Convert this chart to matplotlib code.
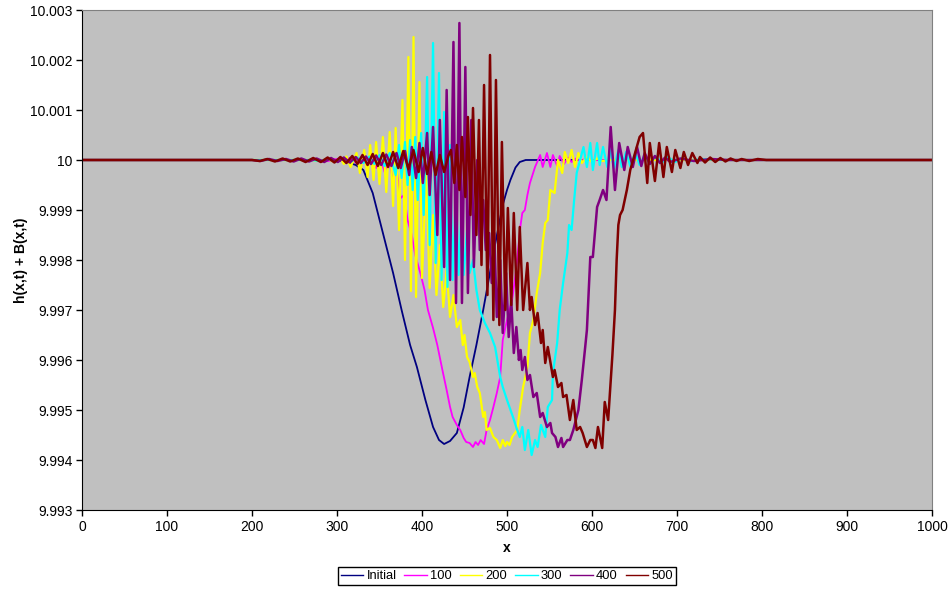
import matplotlib.pyplot as plt
import numpy as np

plt.rcParams["font.family"] = ["Liberation Sans", "DejaVu Sans"]

# surface h + B at each output time, stored as departure from the still
# level 10.0 in units of 1e-5
x_init = [0, 290, 310, 322, 331, 342, 354, 366, 376, 386, 394, 404, 413, 420,
          426, 433, 441, 449, 456, 464, 472, 478, 484, 490, 495, 500, 504, 510,
          515, 522, 1000]
d_init = [0, 0, -3, -10, -20, -66, -146, -226, -300, -370, -414, -480, -534,
          -560, -568, -562, -546, -495, -434, -370, -300, -244, -186, -134,
          -90, -60, -40, -15, -4, 0, 0]

x_100 = [0, 280, 290, 299, 307, 315, 322, 329, 336, 341, 346, 351, 356,
         361, 366, 370, 375, 379, 383, 388, 392, 398, 403, 407, 413, 418, 424,
         429, 433, 436, 441, 445, 449, 452, 456, 460, 463, 466, 469, 473, 476,
         480, 484, 488, 492, 495, 500, 506, 510, 513, 516, 518, 521, 524, 527,
         530, 533, 536, 539, 542, 547, 551, 554, 559, 562, 567, 572, 576, 581,
         586, 592, 600, 1000]
d_100 = [0, 0, -2, 2, -3, 4, -5, 6, -10, 8, -16, 6, -24, 0, -40, -20, -76,
         -70, -120, -150, -190, -226, -260, -300, -336, -370, -420, -460,
         -494, -514, -530, -540, -556, -564, -566, -574, -564, -570, -560,
         -568, -540, -520, -494, -466, -434, -360, -320, -280, -230, -180,
         -130, -106, -100, -70, -46, -30, -14, -2, 10, -14, 14, -14, 10, -12,
         8, -8, 5, -4, 3, -2, 2, 0, 0]

x_200 = [0, 270, 280, 289, 297, 304, 308, 311, 316, 323, 327, 332, 336, 339,
         343, 346, 350, 354, 358, 362, 366, 369, 373, 377, 380, 384, 387, 390,
         393, 397, 400, 405, 409, 413, 417, 421, 425, 429, 433, 437, 441, 445,
         448, 450, 453, 456, 460, 462, 465, 468, 472, 474, 476, 480, 484, 488,
         492, 495, 498, 500, 503, 506, 512, 515, 519, 524, 527, 531, 535, 539,
         542, 545, 548, 551, 556, 560, 565, 568, 572, 576, 580, 584, 588, 594,
         600, 606, 612, 620, 1000]
d_200 = [0, 0, -2, 2, -4, 4, -8, 7, -14, 14, -26, 20, -34, 30, -40, 36, -48,
         46, -64, 56, -92, 64, -140, 120, -200, 206, -262, 246, -274, 156,
         -236, -30, -256, -110, -270, -170, -294, -220, -314, -270, -334,
         -320, -370, -350, -394, -404, -434, -426, -454, -466, -514, -504,
         -540, -536, -554, -560, -576, -560, -572, -564, -570, -554, -540,
         -500, -454, -414, -346, -320, -266, -226, -166, -126, -120, -60, -66,
         0, -26, 16, -6, 20, -14, 14, -6, 6, -4, 3, -2, 0, 0]

x_300 = [0, 270, 280, 290, 299, 308, 316, 324, 331, 338, 344, 350, 356, 362,
         369, 373, 376, 380, 383, 386, 389, 392, 395, 399, 402, 406, 409, 413,
         416, 420, 423, 426, 430, 433, 436, 440, 443, 446, 449, 453, 456, 460,
         464, 468, 474, 480, 486, 492, 495, 500, 507, 512, 515, 518, 521, 525,
         529, 533, 536, 540, 545, 548, 553, 554, 559, 562, 566, 571, 573, 576,
         579, 582, 586, 590, 594, 598, 601, 606, 609, 613, 618, 621, 626, 631,
         635, 640, 645, 651, 656, 662, 668, 675, 682, 689, 698, 706, 715, 727,
         750, 1000]
d_300 = [0, 0, -2, 2, -3, 3, -4, 5, -6, 7, -8, 10, -12, 14, -30, 30, -36, 36,
         -50, 40, -60, 46, -80, 54, -110, 166, -170, 234, -206, 174, -240, 96,
         -254, 30, -240, -60, -230, -120, -230, -140, -226, -200, -260, -300,
         -326, -346, -374, -434, -454, -480, -514, -540, -554, -534, -580,
         -540, -590, -560, -574, -530, -554, -494, -480, -426, -366, -300,
         -246, -186, -130, -140, -80, -26, 0, 26, -14, 34, -20, 34, -10, 26,
         -14, 22, -16, 20, -14, 16, -12, 14, -10, 10, -8, 8, -6, 6, -4, 4, -3,
         2, 0, 0]

x_400 = [0, 200, 210, 220, 230, 240, 249, 258, 267, 276, 285, 293, 301, 308,
         315, 322, 328, 334, 340, 346, 352, 358, 364, 370, 375, 380, 385, 388,
         393, 397, 401, 406, 409, 413, 418, 421, 426, 429, 433, 437, 440, 444,
         447, 451, 454, 458, 461, 465, 468, 472, 475, 479, 482, 485, 488, 492,
         495, 499, 502, 505, 508, 511, 514, 516, 518, 521, 524, 527, 531, 535,
         539, 542, 547, 551, 553, 557, 560, 564, 566, 571, 574, 578, 584, 588,
         592, 594, 598, 601, 606, 609, 613, 617, 622, 627, 632, 638, 642, 648,
         653, 658, 662, 668, 674, 680, 686, 692, 704, 720, 740, 760, 1000]
d_400 = [0, 0, -2, 2, -2, 2, -3, 3, -3, 3, -4, 4, -4, 5, -5, 6, -6, 7, -8, 9,
         -10, 11, -12, 14, -16, 18, -30, 26, -36, 34, -46, 54, -70, 66, -150,
         80, -214, 140, -240, 236, -286, 274, -286, 186, -266, 80, -214, 0,
         -180, -80, -180, -146, -246, -146, -314, -200, -346, -226, -354,
         -280, -386, -334, -400, -380, -420, -394, -440, -430, -474, -466,
         -514, -506, -534, -526, -546, -554, -574, -556, -574, -560, -560,
         -540, -500, -440, -374, -340, -194, -194, -94, -80, -60, -80, 66,
         -60, 34, -20, 26, -14, 26, -12, 14, -8, 8, -6, 5, -4, 3, -2, 2, 0, 0]

x_500 = [0, 200, 209, 218, 227, 236, 245, 254, 263, 272, 281, 289, 297, 304,
         311, 318, 324, 330, 336, 342, 348, 354, 360, 366, 372, 378, 384, 390,
         396, 401, 406, 411, 416, 421, 426, 431, 434, 438, 441, 444, 447, 451,
         454, 457, 460, 464, 467, 470, 473, 477, 480, 484, 487, 491, 494, 498,
         501, 505, 508, 512, 515, 519, 524, 527, 529, 533, 536, 540, 542, 545,
         548, 554, 556, 560, 564, 566, 570, 574, 578, 582, 586, 589, 594, 598,
         601, 604, 607, 612, 615, 619, 624, 627, 629, 631, 633, 636, 641, 645,
         650, 656, 660, 665, 668, 674, 679, 684, 688, 694, 698, 704, 708, 713,
         718, 724, 727, 733, 739, 745, 751, 757, 763, 770, 776, 785, 795, 805,
         1000]
d_500 = [0, 0, -2, 2, -3, 3, -3, 3, -4, 4, -4, 5, -5, 6, -6, 8, -8, 10, -10,
         12, -12, 14, -14, 16, -16, 18, -18, 20, -24, 24, -28, 16, -30, 10,
         -24, 8, 20, -46, 30, -60, 46, -74, 86, -110, 104, -150, 80, -210,
         150, -270, 210, -320, 160, -330, 36, -300, -96, -290, -106, -300,
         -134, -300, -206, -300, -274, -330, -306, -366, -340, -406, -374,
         -434, -420, -454, -446, -474, -470, -520, -480, -540, -534, -546,
         -574, -560, -560, -576, -534, -576, -484, -520, -390, -300, -200,
         -130, -110, -100, -60, -20, 10, 46, 54, -46, 34, -42, 34, -34, 26,
         -24, 20, -16, 16, -10, 14, -6, 6, -5, 5, -4, 4, -3, 3, -2, 2, -2, 2,
         0, 0]

series = [
    ("Initial", x_init, d_init, "#000080", 1.3),
    ("100", x_100, d_100, "#ff00ff", 1.3),
    ("200", x_200, d_200, "#ffff00", 1.6),
    ("300", x_300, d_300, "#00ffff", 1.6),
    ("400", x_400, d_400, "#800080", 1.8),
    ("500", x_500, d_500, "#800000", 1.8),
]

fig = plt.figure(figsize=(9.49, 5.92), dpi=100)
ax = fig.add_axes([82 / 949, 1 - 510 / 592, 850 / 949, 500 / 592])
ax.set_facecolor("#c0c0c0")

for label, xs, ds, color, lw in series:
    h = 10 + np.array(ds) * 1e-5
    ax.plot(xs, h, color=color, lw=lw, label=label)

ax.set_xlim(0, 1000)
ax.set_ylim(9.993, 10.003)
ax.set_xticks(np.arange(0, 1001, 100))
yt = np.arange(9.993, 10.0031, 0.001)
ax.set_yticks(yt)
ax.set_yticklabels([f"{v:.3f}".rstrip("0").rstrip(".") for v in yt])
ax.tick_params(direction="out", length=4, width=1, labelsize=10, pad=3)
for s in ["top", "right"]:
    ax.spines[s].set_color("#808080")
for s in ["left", "bottom"]:
    ax.spines[s].set_color("black")

ax.set_xlabel("x", fontsize=10, fontweight="bold", labelpad=5)
ax.set_ylabel("h(x,t) + B(x,t)", fontsize=10, fontweight="bold", labelpad=1)

fig.legend(
    loc="center",
    bbox_to_anchor=(507 / 949, 1 - 576 / 592),
    ncol=6,
    fontsize=9.3,
    frameon=True,
    fancybox=False,
    edgecolor="black",
    framealpha=1,
    handlelength=1.75,
    handletextpad=0.25,
    columnspacing=0.6,
    borderpad=0.25,
)
for line in fig.legends[0].get_lines():
    line.set_linewidth(1.0)

fig.savefig("out.png", dpi=100)
